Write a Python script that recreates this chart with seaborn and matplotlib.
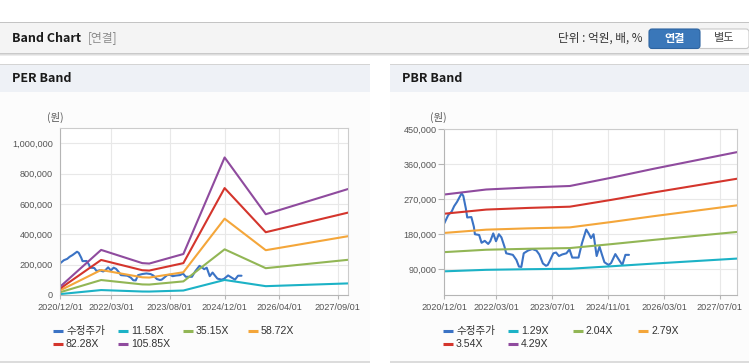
import pandas as pd
import seaborn as sns
import matplotlib.pyplot as plt
from matplotlib.patches import Rectangle, FancyBboxPatch
from matplotlib.lines import Line2D

# 수정주가 (adjusted price)
price_dates = [
    "2020-12-01", "2021-01-04", "2021-02-03", "2021-02-25", "2021-03-22", "2021-05-01",
    "2021-05-16", "2021-06-07", "2021-06-19", "2021-07-25", "2021-08-16", "2021-08-25",
    "2021-10-01", "2021-10-22", "2021-11-19", "2021-12-19", "2022-01-06", "2022-02-01",
    "2022-02-25", "2022-03-22", "2022-04-13", "2022-05-10", "2022-05-25", "2022-07-22",
    "2022-08-22", "2022-09-13", "2022-10-04", "2022-10-25", "2022-12-01", "2023-01-07",
    "2023-02-13", "2023-03-10", "2023-04-10", "2023-05-07", "2023-05-22", "2023-06-07",
    "2023-07-10", "2023-08-03", "2023-08-28", "2023-09-25", "2023-11-01", "2023-11-28",
    "2023-12-22", "2024-02-15", "2024-03-16", "2024-04-22", "2024-05-13", "2024-06-03",
    "2024-06-25", "2024-07-22", "2024-08-16", "2024-09-06", "2024-09-28", "2024-11-03",
    "2024-11-25", "2025-01-01", "2025-01-31", "2025-03-03", "2025-03-30", "2025-04-30",
]
price_values = [
    208000, 229000, 238000, 252000, 263000, 285000,
    278000, 246000, 223000, 224000, 199000, 180000,
    178000, 158000, 163000, 155000, 162000, 182000,
    162000, 180000, 172000, 148000, 131000, 127000,
    114000, 97000, 96000, 131000, 138000, 142000,
    138000, 128000, 105000, 99000, 101000, 110000,
    131000, 133000, 124000, 128000, 131000, 141000,
    120000, 120000, 157000, 192000, 182000, 170000,
    180000, 124000, 148000, 128000, 108000, 101000,
    106000, 129000, 115000, 101000, 127000, 127000,
]

# PER band: implied EPS at the kinks, and the band multiples
per_dates = ["2020-12-01", "2021-12-01", "2022-12-01", "2023-02-01",
             "2023-12-01", "2024-12-01", "2025-12-01", "2027-12-01"]
per_eps = [510, 2806, 1984, 1956, 2551, 8559, 5026, 6594]
per_multiples = [11.58, 35.15, 58.72, 82.28, 105.85]
per_labels = ["11.58X", "35.15X", "58.72X", "82.28X", "105.85X"]

# PBR band: implied BPS and the band multiples
pbr_dates = ["2020-12-01", "2021-12-01", "2022-12-01", "2023-12-01",
             "2024-12-01", "2025-12-01", "2026-12-01", "2027-12-01"]
pbr_bps = [65700, 68700, 69900, 70800, 75800, 81100, 86100, 91100]
pbr_multiples = [1.29, 2.04, 2.79, 3.54, 4.29]
pbr_labels = ["1.29X", "2.04X", "2.79X", "3.54X", "4.29X"]

per_xticks = ["2020-12-01", "2022-03-01", "2023-08-01", "2024-12-01", "2026-04-01", "2027-09-01"]
pbr_xticks = ["2020-12-01", "2022-03-01", "2023-07-01", "2024-11-01", "2026-03-01", "2027-07-01"]
per_yticks = [0, 200000, 400000, 600000, 800000, 1000000]
pbr_yticks = [90000, 180000, 270000, 360000, 450000]

price_name = "수정주가"
colors = ["#3b73c5", "#1cb2c6", "#92b655", "#f4a63a", "#d4352c", "#8f4b9e"]

sns.set_theme(style="white")
plt.rcParams["font.family"] = ["Liberation Sans", "Noto Sans CJK KR"]
KR = ["Noto Sans CJK KR", "DejaVu Sans"]


def band_frame(dates, base, multiples, labels):
    parts = [pd.DataFrame({"date": pd.to_datetime(price_dates),
                           "value": price_values, "series": price_name})]
    for m, lab in zip(multiples, labels):
        parts.append(pd.DataFrame({"date": pd.to_datetime(dates),
                                   "value": [b * m for b in base], "series": lab}))
    return pd.concat(parts, ignore_index=True)


W, H = 749, 364
fig = plt.figure(figsize=(W / 100, H / 100), dpi=100)
fig.patch.set_facecolor("white")

# page background drawn in pixel coordinates
bg = fig.add_axes([0, 0, 1, 1], zorder=0)
bg.set_xlim(0, W)
bg.set_ylim(H, 0)
bg.axis("off")

bg.add_patch(Rectangle((0, 22), W, 1, color="#c4c4c4", lw=0))
bg.add_patch(Rectangle((0, 23), W, 29.5, color="#f4f4f4", lw=0))
for i, c in enumerate(["#c9c9c9", "#dddddd", "#ececec"]):
    bg.add_patch(Rectangle((0, 52.5 + i), W, 1, color=c, lw=0))

for x0, w in [(0, 370), (390, 359)]:
    bg.add_patch(Rectangle((x0, 64), w, 1, color="#d4d4d4", lw=0))
    bg.add_patch(Rectangle((x0, 65), w, 27, color="#eef1f6", lw=0))
    bg.add_patch(Rectangle((x0, 92), w, 269, color="#fcfcfc", lw=0))
    bg.add_patch(Rectangle((x0, 361), w, 1.5, color="#dcdcdc", lw=0))

bg.text(12, 38, "Band Chart", family=KR, weight="bold", fontsize=9, color="#1a1a1a", va="center")
bg.text(88, 38, "[연결]", family=KR, fontsize=8.5, color="#8a8a8a", va="center")
bg.text(642, 38.5, "단위 : 억원, 배, %", family=KR, fontsize=8.4, color="#333333", va="center", ha="right")
bg.add_patch(FancyBboxPatch((698, 29), 51, 19.5, boxstyle="round,pad=0,rounding_size=3",
                            fc="white", ec="#c8c8c8", lw=0.8))
bg.add_patch(FancyBboxPatch((649, 29), 51, 19.5, boxstyle="round,pad=0,rounding_size=3",
                            fc="#3a77b9", ec="#2e64a0", lw=0.8))
bg.text(674.5, 38.5, "연결", family=KR, weight="bold", fontsize=8, color="white", va="center", ha="center")
bg.text(724, 38.5, "별도", family=KR, fontsize=8, color="#444444", va="center", ha="center")

bg.text(12, 79, "PER Band", family=KR, weight="bold", fontsize=9, color="#1a1a1a", va="center")
bg.text(402, 79, "PBR Band", family=KR, weight="bold", fontsize=9, color="#1a1a1a", va="center")
bg.text(55, 117, "(원)", family=KR, fontsize=7.5, color="#555555", va="center", ha="center")
bg.text(438, 117, "(원)", family=KR, fontsize=7.5, color="#555555", va="center", ha="center")


def draw_legend(x_cols, names):
    for i, (name, col) in enumerate(zip(names, colors)):
        x = x_cols[i % 4]
        y = 331 if i < 4 else 344
        bg.add_line(Line2D([x, x + 10], [y, y], color=col, lw=2.2, solid_capstyle="butt"))
        bg.text(x + 13, y, name, fontsize=7.6, color="#333333", va="center")


def make_axes(rect, df, names, yticks, ylim, xticks, ytick_len):
    l, t, r, b = rect
    ax = fig.add_axes([l / W, 1 - b / H, (r - l) / W, (b - t) / H], zorder=2)
    ax.set_facecolor("white")
    sns.lineplot(data=df, x="date", y="value", hue="series", hue_order=names,
                 palette=dict(zip(names, colors)), lw=1.5, errorbar=None,
                 legend=False, ax=ax)
    ax.set_xlim(pd.Timestamp("2020-12-01"), pd.Timestamp("2027-12-01"))
    ax.set_ylim(*ylim)
    ax.set_xticks(pd.to_datetime(xticks))
    ax.set_xticklabels([d.replace("-", "/") for d in xticks])
    ax.set_yticks(yticks)
    ax.set_yticklabels([f"{v:,}" for v in yticks])
    ax.set_xlabel("")
    ax.set_ylabel("")
    ax.grid(True, color="#e8e8e8", lw=0.8)
    ax.set_axisbelow(True)
    ax.tick_params(axis="x", length=3.2, width=0.8, color="#b5b5b5", pad=2.2,
                   labelsize=6.6, labelcolor="#555555", bottom=True)
    ax.tick_params(axis="y", length=ytick_len, width=0.8, color="#b5b5b5",
                   pad=1.5 if ytick_len else 5, labelsize=6.6, labelcolor="#555555", left=True)
    for side in ["left", "bottom"]:
        ax.spines[side].set_color("#b5b5b5")
        ax.spines[side].set_linewidth(0.8)
    for side in ["top", "right"]:
        ax.spines[side].set_color("#cccccc")
        ax.spines[side].set_linewidth(0.8)
    return ax


per_names = [price_name] + per_labels
pbr_names = [price_name] + pbr_labels
per_df = band_frame(per_dates, per_eps, per_multiples, per_labels)
pbr_df = band_frame(pbr_dates, pbr_bps, pbr_multiples, pbr_labels)

make_axes((60, 128, 348, 295), per_df, per_names, per_yticks, (0, 1100000), per_xticks, 0)
make_axes((444.3, 129, 737.3, 295), pbr_df, pbr_names, pbr_yticks, (24000, 450000), pbr_xticks, 4)

draw_legend([53, 118, 183, 248], per_names)
draw_legend([443, 508, 573, 638], pbr_names)

fig.savefig("out.png", dpi=100)
